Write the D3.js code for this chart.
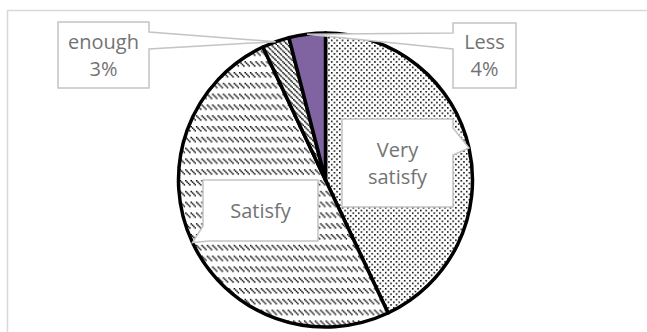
<!DOCTYPE html>
<html>
<head>
<meta charset="utf-8">
<script src="https://cdn.jsdelivr.net/npm/d3@7"></script>
<style>
  html, body { margin: 0; padding: 0; background: #fff; }
  svg { display: block; }
</style>
</head>
<body>
<svg id="chart" width="647" height="332"></svg>
<script>
// Survey answers, clockwise from 12 o'clock
const categories = ["Very satisfy", "Satisfy", "enough", "Less"];
const values = [43, 50, 3, 4];
const labelLines = [["Very", "satisfy"], ["Satisfy"], ["enough", "3%"], ["Less", "4%"]];

const W = 647, H = 332;
const cx = 325.5, cy = 180, R = 147;

const svg = d3.select("#chart");

// chart-area frame
svg.append("rect")
  .attr("x", 7.5).attr("y", 10.5)
  .attr("width", 700).attr("height", 400)
  .attr("fill", "#fff")
  .attr("stroke", "#d9d9d9").attr("stroke-width", 1.5);

// fill patterns (bitmaps scaled up a little)
const defs = svg.append("defs");
function bitmapPattern(id, size, cells, k, dot) {
  const p = defs.append("pattern")
    .attr("id", id)
    .attr("patternUnits", "userSpaceOnUse")
    .attr("width", size).attr("height", size)
    .attr("patternTransform", `scale(${k})`);
  p.append("rect").attr("width", size).attr("height", size).attr("fill", "#fff");
  p.selectAll("rect.c").data(cells).join("rect").attr("class", "c")
    .attr("x", d => d[0]).attr("y", d => d[1])
    .attr("width", dot).attr("height", dot).attr("fill", "#000");
  return `url(#${id})`;
}
const k = 1.35;
const dots = bitmapPattern("dots", 4, [[0, 0], [2, 2]], k, 1.15);
const dashDiag = bitmapPattern("dashDiag", 8,
  [[0,0],[4,0],[1,1],[5,1],[2,2],[6,2],[3,3],[7,3]], k, 1.1);
const ltDiag = bitmapPattern("ltDiag", 4, [[0,0],[1,1],[2,2],[3,3]], k, 1.1);

const fills = [dots, dashDiag, ltDiag, "#8064a2"];

const pie = d3.pie().sort(null).value(d => d)(values);
const arc = d3.arc().innerRadius(0).outerRadius(R);
const edge = d3.arc().innerRadius(R).outerRadius(R);

const g = svg.append("g").attr("transform", `translate(${cx},${cy})`);
g.selectAll("path.slice").data(pie).join("path")
  .attr("class", "slice")
  .attr("d", arc)
  .attr("fill", (d, i) => fills[i])
  .attr("stroke", "#000")
  .attr("stroke-width", 3.5)
  .attr("stroke-linejoin", "round");

// callout boxes: [x0, y0, x1, y1, side, wedge start, wedge end]
const boxes = [
  [342, 119, 453, 207, "right", 128, 155],
  [203, 180, 318, 241, "leftBottom", 226, 0],
  [58, 22, 149, 88, "right", 32, 49],
  [453, 23, 516, 88, "left", 33, 49]
];

function calloutPath(b, tip) {
  const [x0, y0, x1, y1, side, a, bb] = b;
  const [tx, ty] = tip;
  if (side === "right") {
    return `M${x0},${y0}H${x1}V${a}L${tx},${ty}L${x1},${bb}V${y1}H${x0}Z`;
  }
  if (side === "left") {
    return `M${x0},${y0}H${x1}V${y1}H${x0}V${bb}L${tx},${ty}L${x0},${a}Z`;
  }
  // wedge leaving the lower-left corner
  return `M${x0},${y0}H${x1}V${y1}H${x0 + 6}L${tx},${ty}L${x0},${a}Z`;
}

const labels = svg.append("g");
pie.forEach((d, i) => {
  const c = edge.centroid(d);
  const tip = [cx + c[0], cy + c[1]];
  const b = boxes[i];
  labels.append("path")
    .attr("d", calloutPath(b, tip))
    .attr("fill", "#fff")
    .attr("stroke", "#c4c4c4")
    .attr("stroke-width", 1.5)
    .attr("stroke-linejoin", "miter");
  const lines = labelLines[i];
  const mx = (b[0] + b[2]) / 2, my = (b[1] + b[3]) / 2;
  const lh = 27;
  const t = labels.append("text")
    .attr("text-anchor", "middle")
    .attr("font-family", "'Open Sans', sans-serif")
    .attr("font-size", 20)
    .attr("fill", "#737373");
  lines.forEach((s, j) => {
    t.append("tspan")
      .attr("x", mx)
      .attr("y", my + (j - (lines.length - 1) / 2) * lh + 7)
      .text(s);
  });
});
</script>
</body>
</html>
